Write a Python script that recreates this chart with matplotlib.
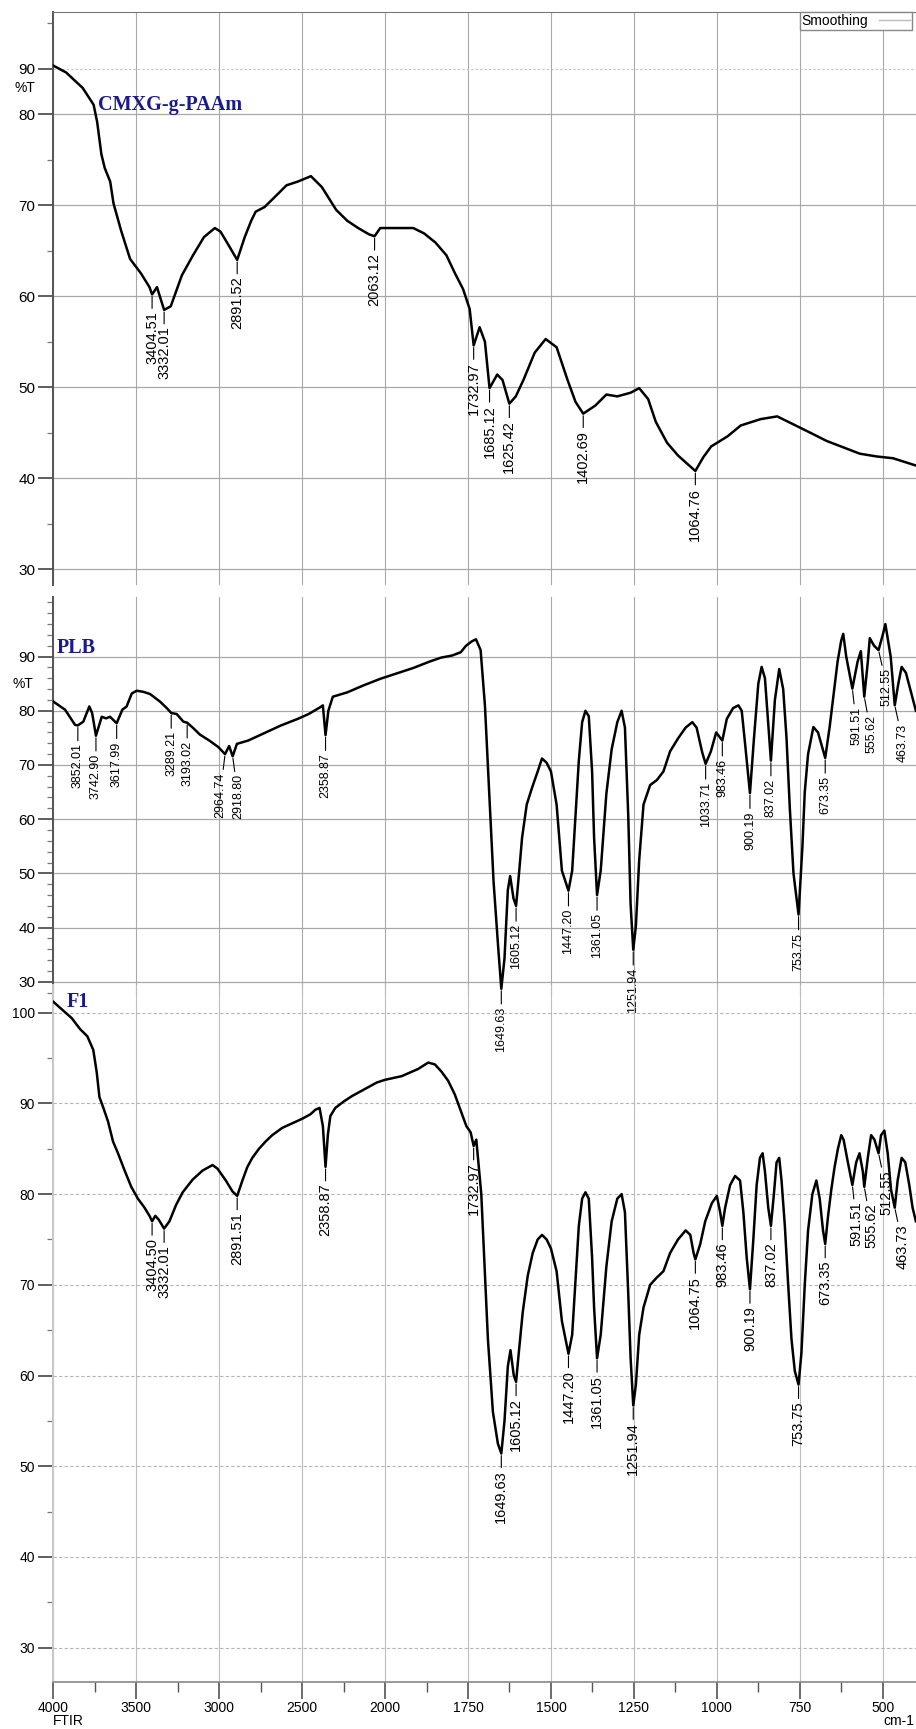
import numpy as np
import matplotlib
matplotlib.use("Agg")
import matplotlib.pyplot as plt
from matplotlib import font_manager
from matplotlib.lines import Line2D

# ---- CMXG-g-PAAm spectrum (wavenumber cm-1, %T) ----
wn_cmxg = [4000, 3923, 3823, 3757, 3736, 3710, 3690, 3657, 3637, 3591,
           3537, 3471, 3420, 3404.51, 3375, 3332.01, 3292, 3225, 3158, 3092,
           3026, 2992, 2946, 2891.52, 2846, 2807, 2780, 2727, 2660, 2594,
           2527, 2447, 2381, 2295, 2228, 2162, 2096, 2063.12, 2029, 1965,
           1915, 1882, 1848, 1815, 1789, 1765, 1745, 1732.97, 1715, 1699,
           1685.12, 1662, 1646, 1625.42, 1606, 1583, 1549, 1516, 1483, 1450,
           1426, 1402.69, 1366, 1333, 1300, 1260, 1234, 1207, 1184, 1150,
           1117, 1064.76, 1041, 1017, 968, 928, 868, 818, 768, 718,
           669, 619, 569, 519, 469, 400]
t_cmxg = [90.7, 89.2, 85.8, 82.1, 79.2, 75.6, 74.1, 72.6, 70.2, 67.2,
          64.1, 62.5, 61.0, 60.2, 61.0, 58.5, 58.9, 62.3, 64.5, 66.5,
          67.5, 67.1, 65.7, 64.0, 66.5, 68.3, 69.3, 69.8, 71.0, 72.2,
          72.6, 73.2, 72.0, 69.5, 68.3, 67.5, 66.8, 66.6, 67.5, 67.5,
          67.5, 66.9, 65.9, 64.5, 62.5, 60.8, 58.6, 54.6, 56.6, 55.0,
          49.9, 51.4, 50.8, 48.2, 49.0, 50.8, 53.8, 55.3, 54.4, 50.8,
          48.4, 47.1, 48.0, 49.2, 49.0, 49.4, 49.9, 48.7, 46.2, 43.9,
          42.5, 40.8, 42.3, 43.5, 44.6, 45.8, 46.5, 46.8, 45.9, 45.0,
          44.1, 43.4, 42.7, 42.4, 42.2, 41.4]
peaks_cmxg = [3404.51, 3332.01, 2891.52, 2063.12, 1732.97, 1685.12,
              1625.42, 1402.69, 1064.76]

# ---- PLB spectrum ----
wn_plb = [4000, 3929, 3869, 3852.01, 3819, 3783, 3766, 3742.90, 3729, 3708,
          3682, 3658, 3617.99, 3584, 3558, 3527, 3497, 3457, 3417, 3357,
          3316, 3289.21, 3256, 3216, 3193.02, 3156, 3116, 3059, 3005, 2964.74,
          2940, 2918.80, 2893, 2826, 2727, 2627, 2527, 2461, 2394, 2375,
          2358.87, 2342, 2315, 2228, 2129, 2029, 1965, 1915, 1865, 1832,
          1798, 1772, 1756, 1739, 1726, 1712, 1699, 1686, 1673, 1659,
          1649.63, 1640, 1630, 1623, 1613, 1605.12, 1597, 1587, 1573, 1557,
          1540, 1527, 1513, 1500, 1483, 1467, 1447.20, 1436, 1426, 1416,
          1406, 1396, 1386, 1376, 1370, 1361.05, 1350, 1333, 1317, 1300,
          1287, 1277, 1267, 1260, 1251.94, 1244, 1234, 1221, 1201, 1181,
          1161, 1141, 1117, 1094, 1074, 1061, 1044, 1033.71, 1018, 1002,
          983.46, 970, 951, 935, 925, 915, 900.19, 888, 875, 865,
          855, 837.02, 825, 812, 800, 790, 780, 769, 753.75, 742,
          735, 725, 709, 695, 673.35, 660, 652, 636, 625, 619,
          610, 591.51, 576, 566, 555.62, 545, 539, 526, 512.55, 500,
          492, 476, 463.73, 453, 443, 430, 417, 400]
t_plb = [81.7, 80.2, 77.4, 77.3, 78.0, 80.8, 79.6, 75.4, 76.8, 78.9,
         78.6, 78.9, 77.7, 80.2, 80.8, 83.2, 83.7, 83.5, 83.1, 81.7,
         80.5, 79.6, 79.4, 78.0, 77.8, 76.8, 75.6, 74.5, 73.3, 72.0,
         73.5, 71.6, 73.9, 74.5, 75.9, 77.3, 78.5, 79.4, 80.6, 81.0,
         75.5, 80.0, 82.6, 83.4, 84.7, 85.9, 86.9, 87.9, 89.1, 89.8,
         90.2, 90.8, 92.0, 92.8, 93.2, 91.2, 81.0, 64.7, 48.5, 36.3,
         28.7, 34.3, 46.9, 49.5, 45.4, 44.0, 49.5, 56.6, 62.7, 65.8,
         68.8, 71.2, 70.4, 68.8, 62.7, 50.5, 46.8, 50.5, 60.6, 70.8,
         77.9, 80.0, 79.0, 68.8, 56.6, 46.0, 50.5, 64.7, 72.9, 77.9,
         80.0, 76.9, 60.6, 44.4, 35.9, 40.3, 52.5, 62.7, 66.3, 67.2,
         68.8, 72.5, 74.9, 76.9, 77.9, 76.9, 72.3, 70.2, 72.5, 76.0,
         74.5, 78.5, 80.5, 81.0, 80.0, 74.0, 64.8, 75.0, 85.0, 88.1,
         86.0, 70.8, 82.0, 87.7, 84.0, 75.0, 62.0, 50.0, 42.4, 55.0,
         65.0, 72.0, 77.0, 76.0, 71.3, 77.0, 81.0, 89.1, 93.0, 94.2,
         90.0, 84.1, 89.0, 91.0, 82.6, 89.0, 93.4, 92.0, 91.2, 94.0,
         96.0, 90.0, 81.0, 85.0, 88.1, 87.0, 84.0, 80.0]
peaks_plb = [3852.01, 3742.90, 3617.99, 3289.21, 3193.02, 2964.74, 2918.80,
             2358.87, 1649.63, 1605.12, 1447.20, 1361.05, 1251.94, 1033.71,
             983.46, 900.19, 837.02, 753.75, 673.35, 591.51, 555.62,
             512.55, 463.73]

# ---- F1 spectrum ----
wn_f1 = [4000, 3889, 3839, 3795, 3759, 3738, 3722, 3700, 3670, 3640,
         3610, 3570, 3530, 3490, 3450, 3420, 3404.50, 3385, 3365, 3332.01,
         3300, 3260, 3220, 3160, 3100, 3040, 3010, 2960, 2920, 2891.51,
         2860, 2830, 2800, 2760, 2720, 2680, 2620, 2560, 2500, 2450,
         2420, 2395, 2375, 2358.87, 2345, 2330, 2300, 2250, 2200, 2150,
         2100, 2050, 2000, 1950, 1900, 1870, 1850, 1830, 1810, 1790,
         1770, 1755, 1742, 1732.97, 1725, 1710, 1700, 1690, 1675, 1660,
         1649.63, 1640, 1630, 1622, 1612, 1605.12, 1597, 1585, 1570, 1555,
         1540, 1527, 1513, 1500, 1483, 1467, 1447.20, 1436, 1426, 1416,
         1406, 1396, 1386, 1376, 1370, 1361.05, 1350, 1333, 1317, 1300,
         1287, 1277, 1267, 1260, 1251.94, 1244, 1234, 1221, 1201, 1181,
         1161, 1141, 1117, 1094, 1080, 1070, 1064.75, 1050, 1035, 1015,
         1000, 990, 983.46, 975, 960, 945, 930, 920, 910, 900.19,
         890, 880, 870, 862, 855, 845, 837.02, 828, 820, 812,
         805, 795, 785, 775, 765, 753.75, 745, 735, 725, 712,
         700, 690, 680, 673.35, 665, 655, 645, 635, 625, 618,
         605, 591.51, 580, 570, 560, 555.62, 545, 535, 525, 512.55,
         505, 495, 485, 475, 463.73, 455, 443, 432, 420, 410,
         400]
t_f1 = [101.2, 99.4, 98.2, 97.4, 95.9, 93.4, 90.7, 89.6, 88.0, 85.8,
        84.5, 82.6, 80.8, 79.5, 78.5, 77.6, 77.0, 77.6, 77.2, 76.2,
        77.0, 78.8, 80.2, 81.6, 82.6, 83.2, 82.8, 81.5, 80.3, 79.8,
        81.5, 83.0, 84.0, 85.0, 85.8, 86.5, 87.3, 87.8, 88.3, 88.8,
        89.3, 89.5, 87.5, 83.0, 86.5, 88.6, 89.5, 90.2, 90.8, 91.3,
        91.8, 92.3, 92.6, 93.0, 93.8, 94.5, 94.3, 93.5, 92.5, 91.0,
        89.0, 87.5, 86.8, 85.3, 86.0, 80.0, 72.0, 64.0, 56.0, 52.5,
        51.4, 55.0, 61.0, 62.8, 60.0, 59.3, 62.5, 67.0, 71.0, 73.5,
        75.0, 75.5, 75.0, 74.0, 71.5, 66.0, 62.4, 64.5, 70.5, 76.5,
        79.5, 80.2, 79.5, 73.0, 67.5, 61.9, 64.5, 72.0, 77.0, 79.5,
        80.0, 78.0, 69.0, 62.0, 56.7, 59.0, 64.5, 67.5, 70.0, 70.8,
        71.5, 73.5, 75.0, 76.0, 75.5, 73.5, 72.8, 74.5, 77.0, 79.0,
        79.8, 78.0, 76.5, 78.5, 81.0, 82.0, 81.5, 78.0, 73.0, 69.5,
        75.0, 81.0, 84.0, 84.5, 82.5, 78.5, 76.5, 80.0, 83.5, 84.0,
        81.5, 76.5, 70.0, 64.0, 60.5, 59.0, 62.5, 70.0, 76.0, 80.0,
        81.5, 79.5, 76.0, 74.5, 77.5, 80.5, 83.0, 85.0, 86.5, 86.0,
        83.5, 81.0, 83.5, 84.5, 82.5, 80.8, 84.0, 86.5, 86.0, 84.5,
        86.5, 87.0, 84.5, 80.5, 78.5, 81.5, 84.0, 83.5, 81.0, 78.5,
        77.0]
peaks_f1 = [3404.50, 3332.01, 2891.51, 2358.87, 1732.97, 1649.63, 1605.12,
            1447.20, 1361.05, 1251.94, 1064.75, 983.46, 900.19, 837.02,
            753.75, 673.35, 591.51, 555.62, 512.55, 463.73]

x_major = [4000, 3500, 3000, 2500, 2000, 1750, 1500, 1250, 1000, 750, 500]
x_minor = [3750, 3250, 2750, 2250, 1875, 1625, 1375, 1125, 875, 625]

assert len(wn_cmxg) == len(t_cmxg)
assert len(wn_plb) == len(t_plb)
assert len(wn_f1) == len(t_f1)

installed = {f.name for f in font_manager.fontManager.ttflist}
NARROW = 'Liberation Sans Narrow' if 'Liberation Sans Narrow' in installed else 'Liberation Sans'
plt.rcParams['font.family'] = ['Liberation Sans', 'DejaVu Sans']
NAVY = '#1a1a8c'

W, H = 916, 1729
fig = plt.figure(figsize=(W / 100, H / 100), dpi=100)


# spectrometer axis: 500 cm-1 per division above 2000, 250 below
def wn_fwd(w):
    w = np.asarray(w, dtype=float)
    return np.where(w > 2000, 2000 + (w - 2000) / 2, w)


def wn_inv(g):
    g = np.asarray(g, dtype=float)
    return np.where(g > 2000, 2000 + (g - 2000) * 2, g)


# top panel has the part above 80 %T squeezed by half
def top_fwd(t):
    t = np.asarray(t, dtype=float)
    return np.where(t > 80, 80 + (t - 80) / 2, t)


def top_inv(h):
    h = np.asarray(h, dtype=float)
    return np.where(h > 80, 80 + (h - 80) * 2, h)


def add_panel(top, bottom):
    left, right = 53.3, 915.9
    ax = fig.add_axes([left / W, 1 - bottom / H, (right - left) / W, (bottom - top) / H])
    ax.set_facecolor('none')
    ax.set_xscale('function', functions=(wn_fwd, wn_inv))
    ax.set_xlim(4000, 400)
    ax.set_xticks(x_major)
    ax.set_xticks(x_minor, minor=True)
    for s in ('top', 'right', 'bottom'):
        ax.spines[s].set_visible(False)
    return ax


def style_y(ax, major, minor, spine_color, size):
    ax.set_yticks(major)
    ax.set_yticklabels([str(v) for v in major])
    ax.set_yticks(minor, minor=True)
    ax.spines['left'].set_color(spine_color)
    ax.spines['left'].set_linewidth(1.4)
    ax.tick_params(axis='y', which='major', length=11, width=1.1, color='#333333',
                   labelsize=size, pad=2, direction='out')
    ax.tick_params(axis='y', which='minor', length=4, width=0.9, color='#777777',
                   direction='out')


def vgrid(ax, color):
    for w in x_major:
        ax.axvline(w, color=color, lw=0.8, zorder=0.5)


def label_peaks(ax, wn, t, peaks, size, drop, nudge=None):
    nudge = nudge or {}
    wn_r = np.asarray(wn)[::-1]
    t_r = np.asarray(t)[::-1]
    for p in peaks:
        y = np.interp(p, wn_r, t_r)
        ax.annotate(f'{p:.2f}', xy=(p, y), xytext=(nudge.get(p, 0), -drop),
                    textcoords='offset points',
                    rotation=90, ha='center', va='top', fontsize=size, family=NARROW,
                    annotation_clip=False, zorder=4,
                    arrowprops=dict(arrowstyle='-', color='k', lw=0.8,
                                    shrinkA=0, shrinkB=1.5))


# ---------------- CMXG-g-PAAm ----------------
ax1 = add_panel(11.7, 585)
ax1.set_yscale('function', functions=(top_fwd, top_inv))
ax1.set_ylim(28.27, 102.55)
style_y(ax1, [30, 40, 50, 60, 70, 80, 90], [35, 45, 55, 65, 75, 100], '#555555', 11)
ax1.spines['top'].set_visible(True)
ax1.spines['top'].set_color('#777777')
ax1.tick_params(axis='x', which='both', bottom=False, labelbottom=False)
vgrid(ax1, '#a8a8a8')
for v in [30, 40, 50, 60, 70, 80]:
    ax1.axhline(v, color='#a8a8a8', lw=0.9, zorder=0.5)
ax1.axhline(90, color='#c0c0c0', lw=0.8, ls=(0, (2, 2)), zorder=0.5)
ax1.plot(wn_cmxg, t_cmxg, color='black', lw=1.8, zorder=3)
label_peaks(ax1, wn_cmxg, t_cmxg, peaks_cmxg, 10.5, 12)
ax1.legend([Line2D([], [], color='#bbbbbb', lw=1)], ['Smoothing'], loc='upper right',
           bbox_to_anchor=(0.9955, 1.0), borderaxespad=0, markerfirst=False,
           fancybox=False, edgecolor='#888888', framealpha=1, fontsize=10,
           handlelength=2.2, borderpad=0.15, handletextpad=0.8)
ax1.text(-0.021, 85.8, '%T', transform=ax1.get_yaxis_transform(), ha='right',
         va='center', fontsize=10)

# ---------------- PLB ----------------
ax2 = add_panel(597, 995)
ax2.set_ylim(27.55, 101.0)
style_y(ax2, [30, 40, 50, 60, 70, 80, 90], list(range(28, 101, 2)), '#555555', 11)
ax2.tick_params(axis='x', which='both', bottom=False, labelbottom=False)
vgrid(ax2, '#a8a8a8')
for v in [30, 40, 50, 60, 70, 80, 90]:
    ax2.axhline(v, color='#a8a8a8', lw=0.9, zorder=0.5)
ax2.plot(wn_plb, t_plb, color='black', lw=1.8, zorder=3)
label_peaks(ax2, wn_plb, t_plb, peaks_plb, 9, 13,
            nudge={2964.74: -3.5, 2918.80: 4, 591.51: 3, 555.62: 5,
                   512.55: 6, 463.73: 6})
ax2.text(-0.023, 85.0, '%T', transform=ax2.get_yaxis_transform(), ha='right',
         va='center', fontsize=10)

# ---------------- F1 ----------------
ax3 = add_panel(985, 1681.7)
ax3.set_ylim(26.25, 103.05)
style_y(ax3, [30, 40, 50, 60, 70, 80, 90, 100], [35, 45, 55, 65, 75, 85, 95], '#c8c8c8', 10)
ax3.spines['bottom'].set_visible(True)
ax3.spines['bottom'].set_color('#888888')
ax3.spines['bottom'].set_linewidth(1.2)
ax3.tick_params(axis='x', which='major', length=12, width=1.1, color='#444444',
                labelsize=10, pad=2, direction='out')
ax3.tick_params(axis='x', which='minor', length=7, width=1.0, color='#555555',
                direction='out')
vgrid(ax3, '#bdbdbd')
for v in [30, 40, 50, 60, 70, 80, 90, 100]:
    ax3.axhline(v, color='#b5b5b5', lw=0.8, ls=(0, (3, 2)), zorder=0.5)
ax3.plot(wn_f1, t_f1, color='black', lw=1.8, zorder=3)
label_peaks(ax3, wn_f1, t_f1, peaks_f1, 10.5, 12,
            nudge={591.51: 3, 555.62: 5, 512.55: 6, 463.73: 6})

# panel names and axis captions
title_font = dict(family=['Liberation Serif', 'DejaVu Serif'], weight='bold',
                  color=NAVY, fontsize=14.5, va='center', ha='left')
fig.text(98 / W, 1 - 105 / H, 'CMXG-g-PAAm', **title_font)
fig.text(57 / W, 1 - 648 / H, 'PLB', **title_font)
fig.text(67 / W, 1 - 1001.7 / H, 'F1', **title_font)
fig.text(53 / W, 1 - 1721 / H, 'FTIR', fontsize=10, ha='left', va='center')
fig.text(914 / W, 1 - 1721 / H, 'cm-1', fontsize=10, ha='right', va='center')

fig.savefig('out.png', dpi=100)
